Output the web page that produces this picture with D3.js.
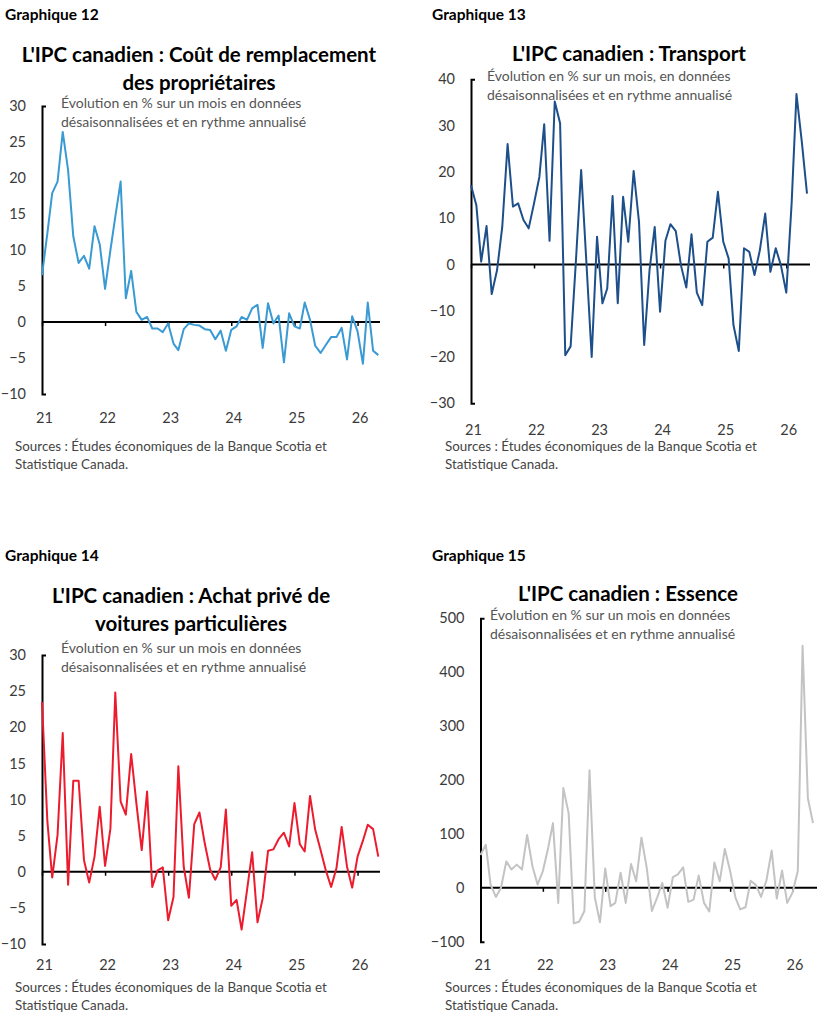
<!DOCTYPE html>
<html>
<head>
<meta charset="utf-8">
<script src="https://cdn.jsdelivr.net/npm/d3@7"></script>
<style>
  body { margin: 0; background: #fff; }
  svg { display: block; font-family: Lato, "Noto Sans", sans-serif; }
</style>
</head>
<body>
<svg id="main-svg" width="828" height="1023"></svg>
<script>
// Monthly data, Jan 2021 -> May 2026 (65 months)
const yearLabels = ["21", "22", "23", "24", "25", "26"];

const ownersCost = [6.5, 12.3, 17.9, 19.5, 26.4, 21.1, 11.9, 8.2, 9.2, 7.4,
                    13.3, 10.8, 4.6, 10.0, 14.6, 19.5, 3.3, 7.1, 1.4, 0.3,
                    0.7, -0.9, -0.9, -1.4, -0.2, -3.0, -3.9, -1.0, -0.2, -0.4,
                    -0.5, -1.0, -1.1, -2.4, -1.2, -4.0, -1.1, -0.6, 0.7, 0.3,
                    1.9, 2.4, -3.6, 2.6, -0.2, 0.9, -5.6, 1.2, -0.6, -0.9,
                    2.7, 0.3, -3.3, -4.3, -3.2, -2.1, -2.1, -0.8, -5.2, 0.8,
                    -1.3, -5.8, 2.7, -4.0, -4.6];

const transport = [17.1, 12.8, 0.6, 8.3, -6.4, -1.2, 8.1, 26.0, 12.5, 13.2,
                   9.6, 7.8, 13.2, 18.9, 30.3, 5.1, 35.2, 30.5, -19.6, -17.7,
                   1.0, 20.4, 0.0, -20.0, 6.0, -8.4, -5.2, 14.8, -8.4, 14.6,
                   4.9, 20.2, 9.2, -17.4, -1.2, 8.1, -10.2, 5.1, 8.7, 7.2,
                   -0.2, -5.0, 6.5, -6.1, -8.8, 4.9, 5.8, 15.7, 4.9, 1.3,
                   -13.1, -18.7, 3.5, 2.7, -2.3, 3.1, 11.0, -1.6, 3.5, -0.2,
                   -6.1, 13.2, 36.8, 26.5, 15.3];

const carPurchase = [23.5, 7.0, -0.8, 5.1, 19.2, -1.8, 12.6, 12.6, 1.6, -1.5,
                     2.1, 9.0, 0.8, 6.0, 24.8, 9.7, 7.9, 16.3, 9.5, 3.0,
                     11.1, -2.1, 0.2, 0.6, -6.7, -3.5, 14.6, 0.7, -3.6, 6.6,
                     8.2, 3.9, 0.3, -1.1, 0.6, 8.6, -4.7, -3.9, -8.0, -2.6,
                     2.7, -7.0, -3.7, 2.9, 3.1, 4.5, 5.4, 3.5, 9.5, 3.8,
                     2.8, 10.5, 5.8, 3.0, 0.2, -2.1, 0.5, 6.2, 0.7, -2.2,
                     2.1, 4.3, 6.5, 5.9, 2.1];

const gasoline = [61, 80, 6, -17, 0, 49, 34, 43, 34, 98,
                  40, 6, 31, 74, 120, -28, 185, 138, -66, -63,
                  -43, 218, -18, -64, 36, -34, -28, 28, -28, 44,
                  12, 93, 37, -43, -18, 9, -37, 20, 25, 38,
                  -26, -22, 23, -28, -44, 47, 12, 72, 31, -18,
                  -40, -36, 13, 5, -17, 13, 69, -20, 32, -28,
                  -9, 31, 449, 166, 120];

const months = d3.timeMonth.range(new Date(2021, 0, 1), new Date(2026, 5, 1));
const yearTicks = d3.timeYear.range(new Date(2021, 0, 1), new Date(2027, 0, 1));

const subtitleA = ["Évolution en % sur un mois en données", "désaisonnalisées et en rythme annualisé"];
const subtitleB = ["Évolution en % sur un mois, en données", "désaisonnalisées et en rythme annualisé"];
const sources = ["Sources : Études économiques de la Banque Scotia et", "Statistique Canada."];

const panels = [
    { label: "Graphique 12", title: ["L'IPC canadien : Coût de remplacement", "des propriétaires"], subtitle: subtitleA,
      values: ownersCost, color: "#3a9ad3", yDomain: [-10, 30], yStep: 5,
      labelX: 5, labelY: 20, titleX: 199, titleY: 62, subX: 61, subY: 108,
      left: 42, right: 378.3, axisEnd: 380, top: 106, bottom: 394, xLabelY: 423, srcX: 15, srcY: 451 },
    { label: "Graphique 13", title: ["L'IPC canadien : Transport"], subtitle: subtitleB,
      values: transport, color: "#1d4f8a", yDomain: [-30, 40], yStep: 10,
      labelX: 432, labelY: 20, titleX: 629, titleY: 61, subX: 487, subY: 81,
      left: 471, right: 807, axisEnd: 810, top: 79.3, bottom: 403.3, xLabelY: 435, srcX: 445, srcY: 451 },
    { label: "Graphique 14", title: ["L'IPC canadien : Achat privé de", "voitures particulières"], subtitle: subtitleA,
      values: carPurchase, color: "#ec1c2e", yDomain: [-10, 30], yStep: 5,
      labelX: 5, labelY: 561, titleX: 191, titleY: 603, subX: 61, subY: 653,
      left: 42, right: 378.3, axisEnd: 380, top: 655, bottom: 944, xLabelY: 970, srcX: 15, srcY: 992 },
    { label: "Graphique 15", title: ["L'IPC canadien : Essence"], subtitle: subtitleA,
      values: gasoline, color: "#c3c3c3", yDomain: [-100, 500], yStep: 100,
      labelX: 432, labelY: 561, titleX: 628, titleY: 601, subX: 490, subY: 620,
      left: 480.5, right: 813, axisEnd: 817, top: 618.3, bottom: 941.7, xLabelY: 970, srcX: 445, srcY: 992 }
];

const svg = d3.select("#main-svg");

function drawPanel(p) {
    const g = svg.append("g");

    g.append("text")
        .attr("x", p.labelX).attr("y", p.labelY)
        .attr("font-size", 15.5).attr("font-weight", 700)
        .text(p.label);

    p.title.forEach((t, i) => {
        g.append("text")
            .attr("x", p.titleX).attr("y", p.titleY + i * 28)
            .attr("text-anchor", "middle")
            .attr("font-size", 20.5).attr("font-weight", 700)
            .text(t);
    });

    p.subtitle.forEach((t, i) => {
        g.append("text")
            .attr("x", p.subX).attr("y", p.subY + i * 18.5)
            .attr("font-size", 14).attr("fill", "#555")
            .text(t);
    });

    const x = d3.scaleTime().domain(d3.extent(months)).range([p.left, p.right]);
    const y = d3.scaleLinear().domain(p.yDomain).range([p.bottom, p.top]);

    // y axis: only the end caps point inward
    const yAxis = g.append("g")
        .attr("transform", `translate(${p.left},0)`)
        .call(d3.axisLeft(y)
            .tickValues(d3.range(p.yDomain[0], p.yDomain[1] + 1, p.yStep))
            .tickSizeInner(0).tickSizeOuter(-4).tickPadding(16));
    yAxis.attr("font-family", null);
    yAxis.select(".domain").attr("stroke", "#000").attr("stroke-width", 2);
    yAxis.selectAll("text").attr("font-size", 14.5).attr("fill", "#3a3a3a");

    // zero line with year ticks
    const zeroAxis = g.append("g")
        .attr("transform", `translate(0,${y(0)})`)
        .call(d3.axisBottom(x).tickValues(yearTicks).tickSize(4).tickFormat(""));
    zeroAxis.select(".domain").remove();
    zeroAxis.selectAll(".tick line").attr("stroke-width", 1.5);
    zeroAxis.append("line")
        .attr("x1", p.left).attr("x2", p.axisEnd)
        .attr("stroke", "#000").attr("stroke-width", 2);

    // year labels at the bottom
    const labelAxis = g.append("g")
        .attr("transform", `translate(2,${p.xLabelY - 10})`)
        .call(d3.axisBottom(x).tickValues(yearTicks)
            .tickFormat((d, i) => yearLabels[i]).tickSize(0).tickPadding(0));
    labelAxis.attr("font-family", null);
    labelAxis.select(".domain").remove();
    labelAxis.selectAll("text").attr("font-size", 14.5).attr("fill", "#3a3a3a");

    g.append("path")
        .datum(p.values)
        .attr("fill", "none")
        .attr("stroke", p.color)
        .attr("stroke-width", 2)
        .attr("stroke-linejoin", "round")
        .attr("d", d3.line().x((d, i) => x(months[i])).y(d => y(d)));

    sources.forEach((t, i) => {
        g.append("text")
            .attr("x", p.srcX).attr("y", p.srcY + i * 18)
            .attr("font-size", 13.4).attr("fill", "#444")
            .text(t);
    });
}

panels.forEach(drawPanel);
</script>
</body>
</html>
